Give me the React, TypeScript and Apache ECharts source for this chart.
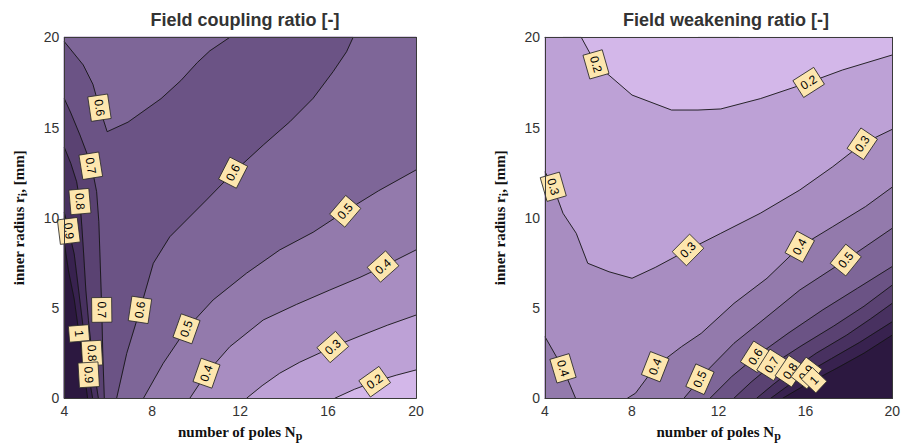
import React, { useEffect, useRef } from "react";
import * as echarts from "echarts";

type P = number[];

// ---------- Field coupling ratio: contour lines [Np, r_i] ----------
const cpl02: P[] = [[16.3, 0], [17.2, 0.5], [18.12, 0.92], [19.1, 1.28], [20, 1.57]];
const cpl03: P[] = [[12.29, 0], [13.0, 0.7], [13.8, 1.39], [14.71, 2.0], [16.23, 2.85], [17.45, 3.45], [18.7, 4.05], [20, 4.61]];
const cpl04: P[] = [[9.71, 0], [10.47, 1.39], [11.53, 2.86], [13.05, 4.34], [14.56, 5.2], [16.08, 6.0], [17.45, 6.7], [18.5, 7.3], [20, 8.22]];
const cpl05: P[] = [[7.6, 0], [8.5, 1.94], [9.56, 3.85], [10.77, 5.45], [12.29, 6.93], [13.8, 8.22], [15.32, 9.2], [16.7, 10.3], [18.3, 11.5], [20, 12.65]];
const cpl06: P[] = [[6.38, 0], [6.84, 2.49], [7.44, 4.89], [8.05, 7.48], [8.8, 8.95], [10.47, 10.99], [11.68, 12.5], [13.05, 14.03], [14.26, 15.32], [15.32, 16.62], [16.23, 18.1], [16.84, 19.2], [17.14, 20]];
const cpl06v: P[] = [[4, 19.76], [4.86, 18.47], [5.3, 17.4], [5.6, 16.1], [5.95, 14.77], [6.9, 15.3], [8.4, 16.6], [9.3, 17.6], [10.05, 18.6], [10.62, 19.25], [11.53, 20]];
const cpl07: P[] = [[4, 16.6], [4.3, 15.8], [4.71, 14.59], [5.05, 13.5], [5.3, 12.5], [5.47, 11.45], [5.57, 9.8], [5.62, 8.0], [5.7, 5.07], [5.75, 2.5], [5.82, 0]];
const cpl08: P[] = [[4, 13.9], [4.3, 13.0], [4.56, 12.0], [4.71, 10.9], [4.8, 9.5], [4.88, 8.0], [4.98, 6.0], [5.1, 4.3], [5.3, 2.0], [5.55, 0]];
const cpl09: P[] = [[4, 10.3], [4.2, 9.3], [4.45, 8.0], [4.65, 6.0], [4.85, 4.0], [5.0, 2.5], [5.12, 1.2], [5.29, 0]];
const cpl10: P[] = [[4, 8.6], [4.2, 7.0], [4.45, 5.5], [4.62, 4.0], [4.8, 2.5], [4.93, 1.2], [5.06, 0]];

// labels [Np, r_i, level]
const couplingLabels: P[] = [
  [5.6, 16.1, 0.6], [5.25, 12.9, 0.7], [4.71, 10.9, 0.8], [4.3, 9.3, 0.9],
  [11.68, 12.5, 0.6], [16.76, 10.4, 0.5], [18.5, 7.3, 0.4],
  [5.75, 4.9, 0.7], [7.44, 4.9, 0.6], [4.7, 3.6, 1], [5.25, 2.5, 0.8], [5.1, 1.3, 0.9],
  [9.56, 3.85, 0.5], [10.47, 1.39, 0.4], [16.23, 2.8, 0.3], [18.12, 0.92, 0.2],
];

// ---------- Field weakening ratio: contour lines [Np, r_i] ----------
const wk02: P[] = [[4.83, 20], [5.67, 20], [6.35, 18.5], [6.95, 17.9], [8.01, 16.8], [9.83, 15.97], [11.05, 15.97], [12.1, 16.03], [13.92, 16.6], [16.15, 17.5], [17.71, 18.19], [20, 19.02]];
const wkTopEdge: P[] = [[11.05, 20], [12.94, 20]];
const wk03: P[] = [[4, 12.55], [4.38, 11.72], [4.83, 10.25], [5.44, 9.14], [5.97, 7.48], [6.95, 7.01], [8.01, 6.65], [9.08, 7.25], [10.59, 8.22], [12.1, 9.14], [13.92, 10.25], [15.74, 11.54], [17.26, 12.83], [18.62, 14.1], [20, 14.9]];
const wk04a: P[] = [[4, 3.41], [4.83, 1.66], [5.41, 0]];
const wk04b: P[] = [[7.79, 0], [8.17, 0.28], [9.08, 1.75], [10.29, 2.86], [11.2, 3.6], [12.71, 5.26], [14.23, 6.65], [15.74, 8.4], [17.26, 9.51], [18.77, 10.62], [20, 11.7]];
const wk05: P[] = [[10.4, 0], [11.5, 1.57], [12.71, 3.05], [14.23, 4.52], [15.74, 6.0], [17.86, 7.66], [20, 9.42]];
const wk06: P[] = [[11.6, 0], [12.6, 1.2], [13.7, 2.3], [15.2, 3.6], [16.8, 4.9], [18.4, 6.1], [20, 7.3]];
const wk07: P[] = [[12.7, 0], [13.5, 0.9], [14.45, 1.85], [15.8, 2.9], [17.3, 4.0], [18.7, 5.1], [20, 6.27]];
const wk08: P[] = [[13.75, 0], [14.5, 0.75], [15.3, 1.5], [16.5, 2.5], [17.9, 3.5], [19.0, 4.4], [20, 5.26]];
const wk09: P[] = [[14.4, 0], [15.2, 0.7], [16.05, 1.4], [17.2, 2.2], [18.5, 3.1], [20, 4.24]];
const wk10: P[] = [[14.95, 0], [15.8, 0.6], [16.4, 1.0], [17.5, 1.7], [18.7, 2.5], [20, 3.5]];

const weakeningLabels: P[] = [
  [6.35, 18.5, 0.2], [16.15, 17.5, 0.2], [4.38, 11.72, 0.3], [10.59, 8.22, 0.3], [18.62, 14.1, 0.3],
  [4.83, 1.66, 0.4], [9.08, 1.75, 0.4], [15.74, 8.4, 0.4], [11.0, 1.2, 0.5], [17.86, 7.66, 0.5],
  [13.7, 2.3, 0.6], [14.45, 1.85, 0.7], [15.3, 1.5, 0.8], [16.05, 1.4, 0.9], [16.4, 1.0, 1],
];

// axis ticks
const xTicks = [4, 8, 12, 16, 20];
const yTicks = [0, 5, 10, 15, 20];

// band colours: <0.2, 0.2-0.3, ..., 0.9-1, >1
const bandColors = ["#d3b7e9", "#bda1d6", "#a88dc1", "#937aac", "#7e6698", "#6b5385", "#5a4272", "#483160", "#38224f", "#2c1840"];

const FONT = "'Liberation Sans', Arial, Helvetica, sans-serif";
const NAME_FONT = "'Liberation Serif', 'Times New Roman', serif";
const LABEL_TILT = 1.9;

const frame: P[] = [[4, 0], [20, 0], [20, 20], [4, 20]];
const rev = (a: P[]) => [...a].reverse();

const couplingContours = [
  { level: 0.2, pts: cpl02 }, { level: 0.3, pts: cpl03 }, { level: 0.4, pts: cpl04 },
  { level: 0.5, pts: cpl05 }, { level: 0.6, pts: cpl06 }, { level: 0.6, pts: cpl06v },
  { level: 0.7, pts: cpl07 }, { level: 0.8, pts: cpl08 }, { level: 0.9, pts: cpl09 }, { level: 1, pts: cpl10 },
];
const couplingFills = [
  { band: 0, pts: frame },
  { band: 1, pts: [...cpl02, [20, 20], [4, 20], [4, 0]] },
  { band: 2, pts: [...cpl03, [20, 20], [4, 20], [4, 0]] },
  { band: 3, pts: [...cpl04, [20, 20], [4, 20], [4, 0]] },
  { band: 4, pts: [...cpl05, [20, 20], [4, 20], [4, 0]] },
  { band: 5, pts: [...cpl06, ...rev(cpl06v), [4, 0]] },
  { band: 6, pts: [...cpl07, [4, 0]] },
  { band: 7, pts: [...cpl08, [4, 0]] },
  { band: 8, pts: [...cpl09, [4, 0]] },
  { band: 9, pts: [...cpl10, [4, 0]] },
];

const weakeningContours = [
  { level: 0.2, pts: wk02 }, { level: 0.2, pts: wkTopEdge }, { level: 0.3, pts: wk03 },
  { level: 0.4, pts: wk04a }, { level: 0.4, pts: wk04b }, { level: 0.5, pts: wk05 },
  { level: 0.6, pts: wk06 }, { level: 0.7, pts: wk07 }, { level: 0.8, pts: wk08 },
  { level: 0.9, pts: wk09 }, { level: 1, pts: wk10 },
];
const weakeningFills = [
  { band: 0, pts: frame },
  { band: 1, pts: [[4, 0], [20, 0], ...rev(wk02), [4, 20]] },
  { band: 2, pts: [...wk03, [20, 0], [4, 0]] },
  { band: 3, pts: [...wk04a, [4, 0]] },
  { band: 3, pts: [...wk04b, [20, 0]] },
  { band: 4, pts: [...wk05, [20, 0]] },
  { band: 5, pts: [...wk06, [20, 0]] },
  { band: 6, pts: [...wk07, [20, 0]] },
  { band: 7, pts: [...wk08, [20, 0]] },
  { band: 8, pts: [...wk09, [20, 0]] },
  { band: 9, pts: [...wk10, [20, 0]] },
];

let measureCtx: CanvasRenderingContext2D | null = null;
function textWidth(t: string, font: string) {
  if (!measureCtx) measureCtx = document.createElement("canvas").getContext("2d");
  if (!measureCtx) return t.length * 7;
  measureCtx.font = font;
  return measureCtx.measureText(t).width;
}

function fillSeries(g: number, fills: { band: number; pts: P[] }[]) {
  return {
    type: "custom", xAxisIndex: g * 2, yAxisIndex: g * 2, z: 1, silent: true,
    data: fills.map((f, i) => [f.pts[0][0], f.pts[0][1], i]),
    renderItem: (_p: any, api: any) => {
      const f = fills[api.value(2)];
      return {
        type: "polygon",
        shape: { points: f.pts.map((q) => api.coord(q)) },
        style: { fill: bandColors[f.band], stroke: bandColors[f.band], lineWidth: 0.5 },
      };
    },
  };
}

function lineSeries(g: number, contours: { level: number; pts: P[] }[]) {
  return contours.map((c) => ({
    type: "line", xAxisIndex: g * 2, yAxisIndex: g * 2, z: 3, silent: true,
    showSymbol: false, symbol: "none", data: c.pts,
    lineStyle: { color: "#151515", width: 0.9 },
  }));
}

function labelSeries(g: number, labels: P[], contours: { level: number; pts: P[] }[]) {
  const font = `12px ${FONT}`;
  return {
    type: "custom", xAxisIndex: g * 2, yAxisIndex: g * 2, z: 5, silent: true,
    data: labels.map((l, i) => [l[0], l[1], i]),
    renderItem: (_p: any, api: any) => {
      const [lx, ly, lev] = labels[api.value(2)];
      const p = api.coord([lx, ly]);
      let best = Infinity, bp = p, ang = 0;
      contours.filter((c) => c.level === lev).forEach((c) => {
        const px = c.pts.map((q) => api.coord(q));
        for (let k = 0; k < px.length - 1; k++) {
          const a = px[k], b = px[k + 1];
          const dx = b[0] - a[0], dy = b[1] - a[1];
          const L2 = dx * dx + dy * dy;
          let t = L2 > 0 ? ((p[0] - a[0]) * dx + (p[1] - a[1]) * dy) / L2 : 0;
          t = Math.max(0, Math.min(1, t));
          const qx = a[0] + t * dx, qy = a[1] + t * dy;
          const d = (qx - p[0]) ** 2 + (qy - p[1]) ** 2;
          if (d < best) { best = d; bp = [qx, qy]; ang = Math.atan2(dy * LABEL_TILT, dx); }
        }
      });
      if (ang > Math.PI / 2) ang -= Math.PI;
      if (ang <= -Math.PI / 2) ang += Math.PI;
      const text = lev === 1 ? "1" : String(lev);
      const w = Math.max(textWidth(text, font) + 8, 16);
      const h = 20;
      return {
        type: "group", x: bp[0], y: bp[1], rotation: -ang,
        children: [
          { type: "rect", shape: { x: -w / 2, y: -h / 2, width: w, height: h }, style: { fill: "#fde6ae", stroke: "#2a2a2a", lineWidth: 0.8 } },
          { type: "text", style: { text, x: 0, y: 0, align: "center", verticalAlign: "middle", font, fill: "#000" } },
        ],
      };
    },
  };
}

function axes(g: number) {
  const lineStyle = { color: "#3a3a3a", width: 1 };
  const rich = {
    m: { fontSize: 15, fontWeight: "bold", fontFamily: NAME_FONT, color: "#111" },
    s: { fontSize: 12, fontWeight: "bold", fontFamily: NAME_FONT, color: "#111", padding: [9, 0, 0, 0] },
  };
  const xs = [
    {
      gridIndex: g, type: "value", min: xTicks[0], max: xTicks[xTicks.length - 1], interval: 4, position: "bottom", z: 6,
      axisLine: { show: true, onZero: false, lineStyle }, axisTick: { show: false }, splitLine: { show: false },
      axisLabel: { color: "#333", fontSize: 14, fontFamily: FONT, margin: 6 },
      name: "{m|number of poles N}{s|p}", nameLocation: "middle", nameGap: 23,
      nameTextStyle: { rich },
    },
    {
      gridIndex: g, type: "value", min: 4, max: 20, position: "top", z: 6,
      axisLine: { show: true, onZero: false, lineStyle }, axisTick: { show: false }, splitLine: { show: false }, axisLabel: { show: false },
    },
  ];
  const ys = [
    {
      gridIndex: g, type: "value", min: yTicks[0], max: yTicks[yTicks.length - 1], interval: 5, position: "left", z: 6,
      axisLine: { show: true, onZero: false, lineStyle }, axisTick: { show: false }, splitLine: { show: false },
      axisLabel: { color: "#333", fontSize: 14, fontFamily: FONT, margin: 5 },
      name: "{m|inner radius r}{s|i}{m|, [mm]}", nameLocation: "middle", nameGap: 35,
      nameTextStyle: { rich },
    },
    {
      gridIndex: g, type: "value", min: 0, max: 20, position: "right", z: 6,
      axisLine: { show: true, onZero: false, lineStyle }, axisTick: { show: false }, splitLine: { show: false }, axisLabel: { show: false },
    },
  ];
  return { xs, ys };
}

export default function App() {
  const ref = useRef<HTMLDivElement>(null);
  useEffect(() => {
    if (!ref.current) return;
    const chart = echarts.init(ref.current, undefined, { renderer: "svg" });
    const a0 = axes(0), a1 = axes(1);
    chart.setOption({
      animation: false,
      backgroundColor: "#ffffff",
      title: [
        { text: "Field coupling ratio [-]", left: 240, top: 6, textAlign: "center", textStyle: { fontSize: 18, fontWeight: "bold", color: "#333", fontFamily: FONT } },
        { text: "Field weakening ratio [-]", left: 721, top: 6, textAlign: "center", textStyle: { fontSize: 18, fontWeight: "bold", color: "#333", fontFamily: FONT } },
      ],
      grid: [
        { left: 64.3, top: 37.3, width: 351.7, height: 361, containLabel: false },
        { left: 545, top: 37.3, width: 351.7, height: 361, containLabel: false },
      ],
      xAxis: [...a0.xs, ...a1.xs],
      yAxis: [...a0.ys, ...a1.ys],
      series: [
        fillSeries(0, couplingFills),
        ...lineSeries(0, couplingContours),
        labelSeries(0, couplingLabels, couplingContours),
        fillSeries(1, weakeningFills),
        ...lineSeries(1, weakeningContours),
        labelSeries(1, weakeningLabels, weakeningContours),
      ],
    });
    return () => chart.dispose();
  }, []);
  return <div ref={ref} style={{ position: "absolute", left: 0, top: 0, width: 903, height: 448 }} />;
}
